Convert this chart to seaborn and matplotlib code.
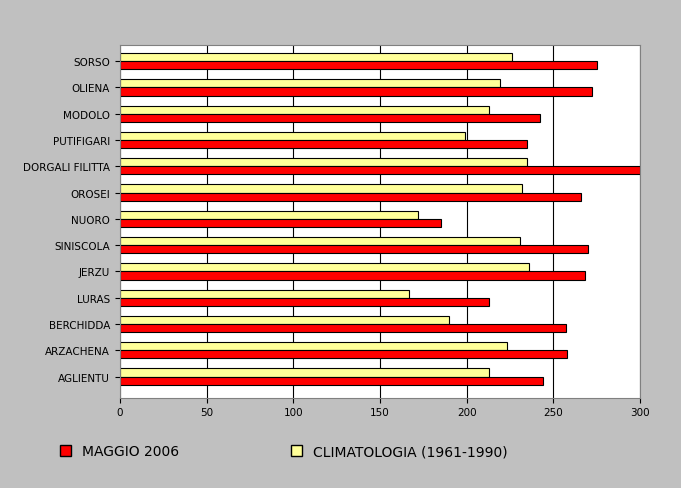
import matplotlib
matplotlib.use("Agg")
import matplotlib.pyplot as plt
import seaborn as sns
import pandas as pd
import numpy as np

stations = ["SORSO","OLIENA","MODOLO","PUTIFIGARI","DORGALI FILITTA","OROSEI","NUORO",
            "SINISCOLA","JERZU","LURAS","BERCHIDDA","ARZACHENA","AGLIENTU"]
maggio = [275,272,242,235,300,266,185,270,268,213,257,258,244]
clima = [226,219,213,199,235,232,172,231,236,167,190,223,213]
series = ["CLIMATOLOGIA (1961-1990)", "MAGGIO 2006"]

df = pd.DataFrame({"station": stations*2,
                   "value": clima+maggio,
                   "series": [series[0]]*len(stations)+[series[1]]*len(stations)})

fig = plt.figure(figsize=(6.81,4.89), dpi=100)
fig.patch.set_facecolor("#c0c0c0")
ax = fig.add_axes([0.176, 0.185, 0.764, 0.72])
ax.set_facecolor("white")
sns.barplot(data=df, y="station", x="value", hue="series", order=stations,
            hue_order=series, palette={series[0]:"#ffff99", series[1]:"#ff0000"},
            saturation=1, edgecolor="black", linewidth=0.8, width=0.62, ax=ax, legend=False)
ax.set_xlim(0,300)
ax.set_ylim(len(stations)-0.2, -0.6)
ax.set_xticks([0,50,100,150,200,250,300])
ax.xaxis.grid(True, color="black", linewidth=0.8)
ax.set_axisbelow(True)
ax.set_xlabel(""); ax.set_ylabel("")
ax.tick_params(labelsize=7.5)
for s in ax.spines.values():
    s.set_color("#808080")

from matplotlib.patches import Patch
handles = [Patch(facecolor="#ff0000", edgecolor="black", label="MAGGIO 2006"),
           Patch(facecolor="#ffff99", edgecolor="black", label="CLIMATOLOGIA (1961-1990)")]
fig.legend(handles=handles, loc="lower left", bbox_to_anchor=(0.07,0.035), ncol=2,
           frameon=False, fontsize=10, handlelength=0.8, handleheight=0.8, columnspacing=8)
fig.savefig("out.png", dpi=100, facecolor=fig.get_facecolor())
